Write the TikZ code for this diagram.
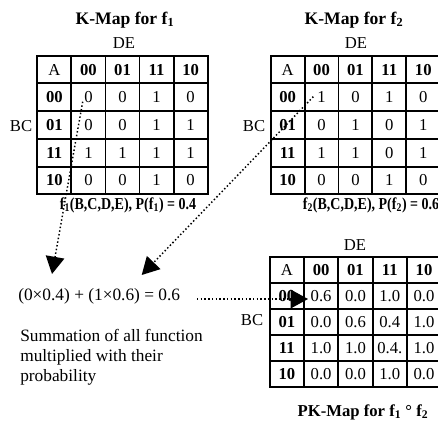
\documentclass[tikz,12pt,border=0pt]{standalone}
\usepackage{graphicx}
\usepackage{fontspec}
\setmainfont{Liberation Serif}
\usetikzlibrary{arrows.meta}
\tikzset{
  gridline/.style={line width=1.4pt, line cap=rect},
  cell/.style={inner sep=0pt},
  hdcell/.style={inner sep=0pt, font=\bfseries},
  lbl/.style={inner sep=0pt},
  ttl/.style={inner sep=0pt, font=\bfseries\fontsize{13.2}{16}\selectfont},
  capt/.style={inner sep=0pt, font=\bfseries\fontsize{12.5}{16}\selectfont},
  bigtxt/.style={inner sep=0pt, font=\fontsize{13}{15}\selectfont},
  dotarrow/.style={line width=1.1pt, dash pattern=on 1.1pt off 1.7pt,
    -{Triangle[length=13pt,width=14pt]}},
}
\newcommand\KMtable[6]{%
  \foreach \k in {0,...,5} {
    \draw[gridline] ({#2+\k*#4},#3) -- ({#2+\k*#4},{#3+5*#5});
    \draw[gridline] (#2,{#3+\k*#5}) -- ({#2+5*#4},{#3+\k*#5});
  }
  \node[cell] (#1-h0) at ({#2+0.5*#4},{#3+0.5*#5}) {A};
  \foreach \t [count=\j] in {00,01,11,10}
    \node[hdcell] (#1-h\j) at ({#2+(\j+0.5)*#4},{#3+0.5*#5}) {\t};
  \foreach \r/\a/\b/\c/\d [count=\i] in {#6} {
    \node[hdcell] (#1-r\i) at ({#2+0.5*#4},{#3+(\i+0.5)*#5}) {\r};
    \node[cell] (#1-\i-1) at ({#2+1.5*#4},{#3+(\i+0.5)*#5}) {\a};
    \node[cell] (#1-\i-2) at ({#2+2.5*#4},{#3+(\i+0.5)*#5}) {\b};
    \node[cell] (#1-\i-3) at ({#2+3.5*#4},{#3+(\i+0.5)*#5}) {\c};
    \node[cell] (#1-\i-4) at ({#2+4.5*#4},{#3+(\i+0.5)*#5}) {\d};
  }
}
\begin{document}
\fontsize{12.5}{15}\selectfont
\begin{tikzpicture}[x=0.75pt,y=-0.75pt]
\useasboundingbox (0,0) rectangle (438,424);

% K-map f1
\node[ttl] (t1) at (125,20) {K-Map for f\textsubscript{1}};
\node[lbl] (de1) at (124,43) {DE};
\node[lbl] (bc1) at (21,126) {BC};
\KMtable{fa}{37.3}{55.7}{34.08}{27.72}{00/0/0/1/0, 01/0/0/1/1, 11/1/1/1/1, 10/0/0/1/0}
\node[capt] (c1) at (128,205.5) {\scalebox{0.84}[1]{f\textsubscript{1}(B,C,D,E), P(f\textsubscript{1}) = 0.4}};

% K-map f2
\node[ttl] (t2) at (354,20) {K-Map for f\textsubscript{2}};
\node[lbl] (de2) at (356,43) {DE};
\node[lbl] (bc2) at (254,126) {BC};
\KMtable{fb}{270.7}{55.7}{33.9}{27.72}{00/1/0/1/0, 01/0/1/0/1, 11/1/1/0/1, 10/0/0/1/0}
\node[capt] (c2) at (371,205.5) {\scalebox{0.84}[1]{f\textsubscript{2}(B,C,D,E), P(f\textsubscript{2}) = 0.6}};

% PK-map
\node[lbl] (de3) at (355,245) {DE};
\node[lbl] (bc3) at (252,320) {BC};
\KMtable{pk}{269.7}{256.7}{34.3}{26}{00/0.6/0.0/1.0/0.0, 01/0.0/0.6/0.4/1.0, 11/1.0/1.0/0.4./1.0, 10/0.0/0.0/1.0/0.0}
\node[ttl, font=\bfseries\fontsize{12.5}{15}\selectfont] (t3) at (363,412) {PK-Map for f\textsubscript{1} ° f\textsubscript{2}};

% left texts
\node[bigtxt, anchor=west] (eq) at (18,296) {(0×0.4) + (1×0.6) = 0.6};
\node[bigtxt, anchor=west, align=left] (sum) at (20,357)
  {Summation of all function\\multiplied with their\\probability};

% connectors
\coordinate (s1) at (82.7,101.7);
\coordinate (e1) at (52,274);
\coordinate (s2) at (313.3,96.7);
\coordinate (e2) at (141.7,275);
\coordinate (s3) at (197,299);
\coordinate (e3) at (308,299);
\draw[dotarrow] (s1) -- (e1);
\draw[dotarrow] (s2) -- (e2);
\draw[dotarrow] (s3) -- (e3);
\end{tikzpicture}
\end{document}
